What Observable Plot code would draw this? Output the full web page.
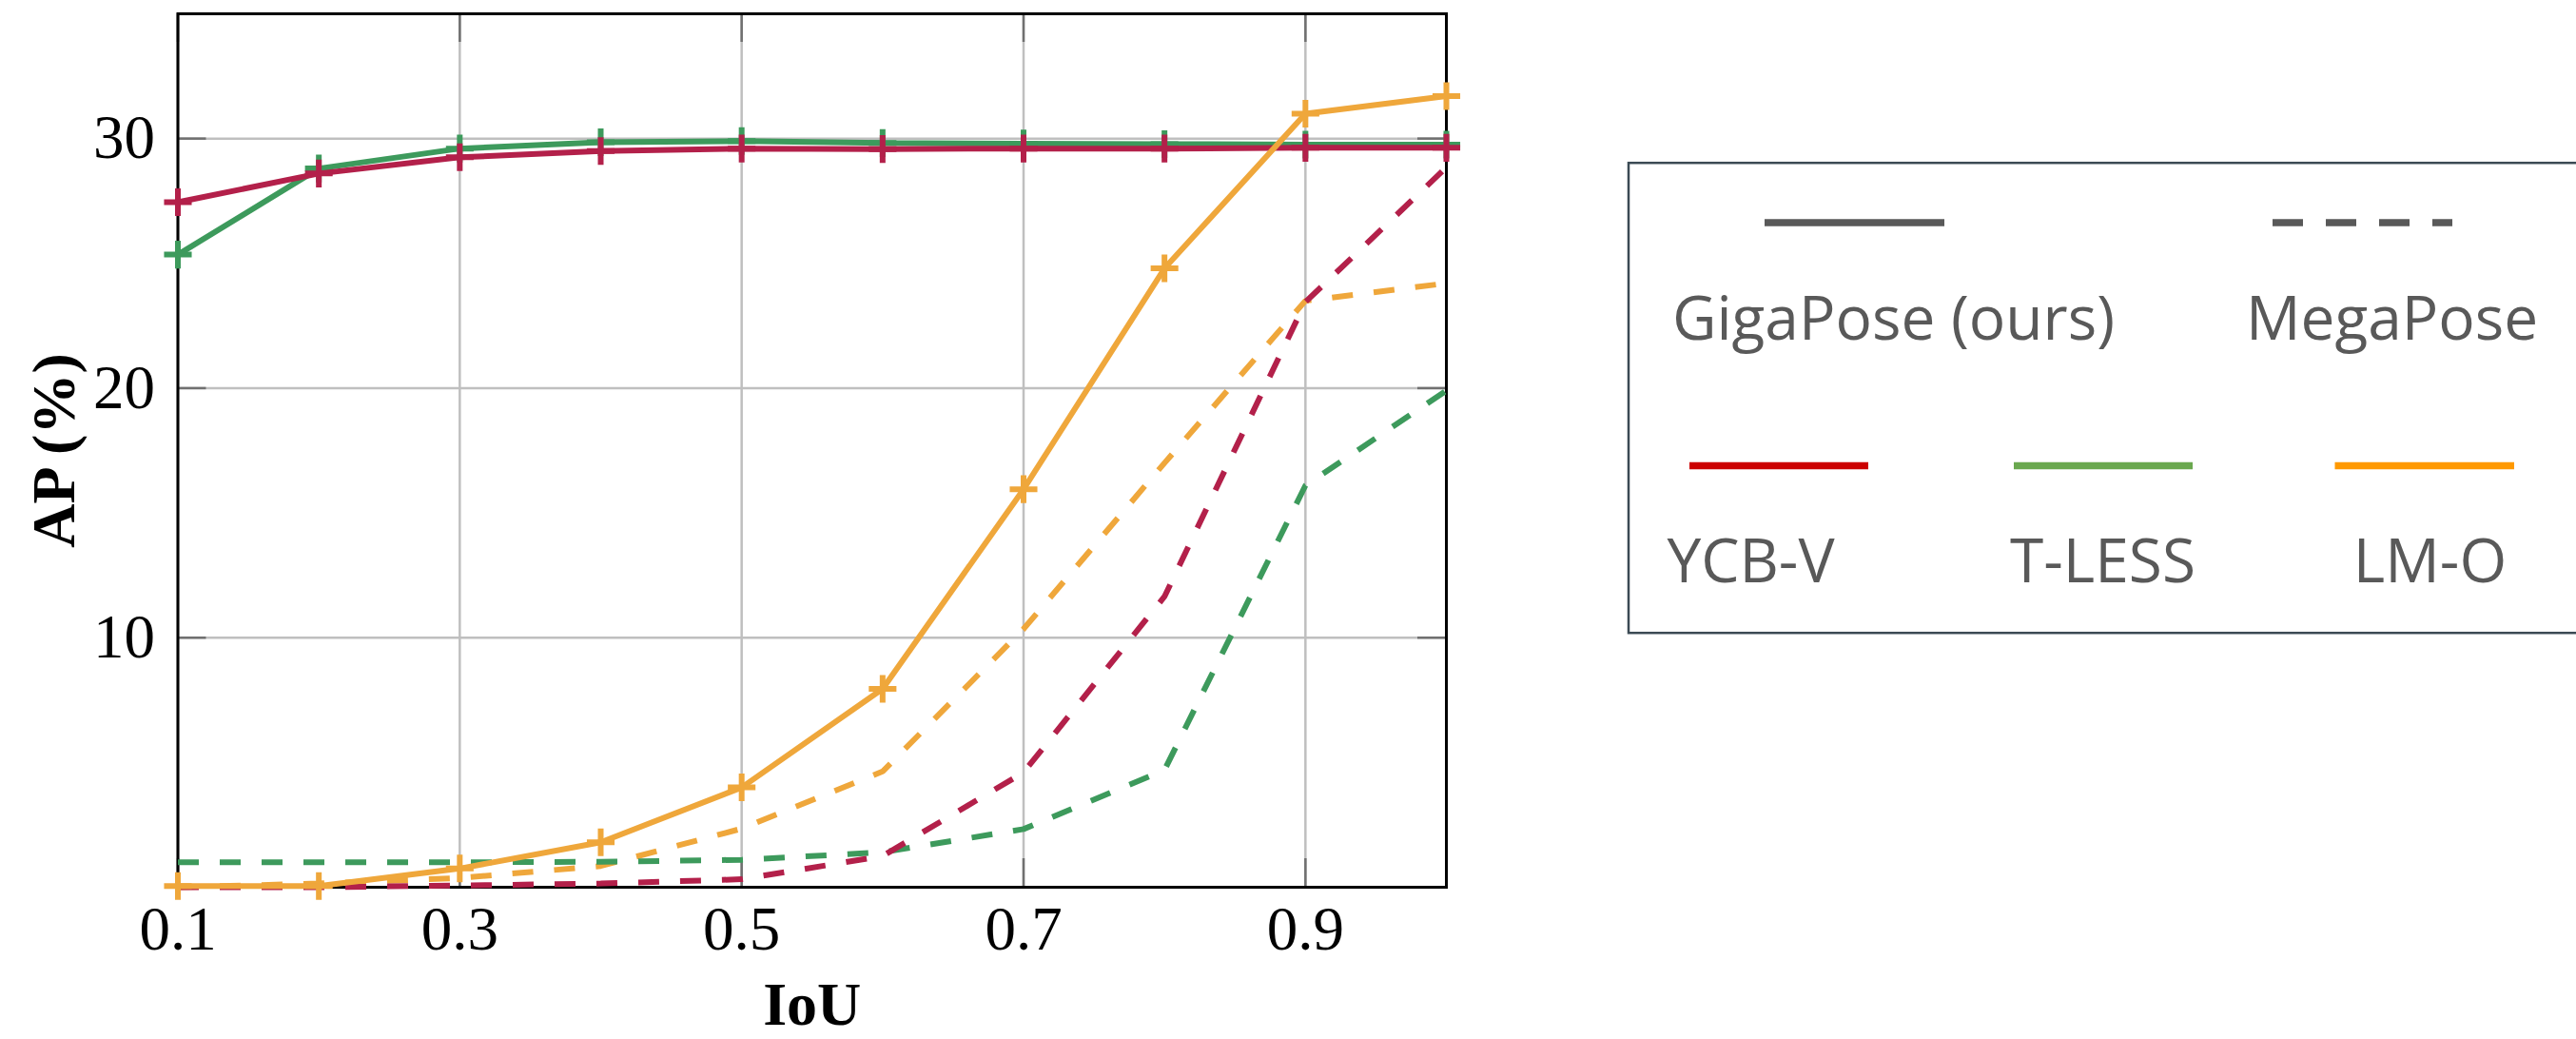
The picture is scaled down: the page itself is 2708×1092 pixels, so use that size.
<!DOCTYPE html>
<html>
<head>
<meta charset="utf-8">
<script src="https://cdn.jsdelivr.net/npm/d3@7"></script>
<script src="https://cdn.jsdelivr.net/npm/@observablehq/plot@0.6"></script>
<style>
  html, body { margin: 0; padding: 0; background: #fff; overflow: hidden; width: 2708px; height: 1092px; }
  #wrap { position: relative; width: 2708px; height: 1092px; }
  #chart { position: absolute; left: 0; top: 0; }
  #legend { position: absolute; left: 1711px; top: 170px; }
</style>
</head>
<body>
<div id="wrap">
  <div id="chart"></div>
  <div id="legend"></div>
</div>
<script>
// IoU thresholds on the x axis
const iou = [0.1, 0.2, 0.3, 0.4, 0.5, 0.6, 0.7, 0.8, 0.9, 1.0];

// AP (%) per dataset — GigaPose (ours), solid lines with "+" markers
const gigaYcbv  = [27.45, 28.6, 29.25, 29.5, 29.6, 29.58, 29.6, 29.6, 29.63, 29.63];
const gigaTless = [25.35, 28.8, 29.6, 29.85, 29.9, 29.82, 29.8, 29.78, 29.76, 29.76];
const gigaLmo   = [0.05, 0.05, 0.75, 1.8, 4.0, 7.95, 15.95, 24.8, 31.0, 31.7];

// AP (%) per dataset — MegaPose, dashed lines
const megaYcbv  = [0.0, 0.0, 0.07, 0.15, 0.32, 1.25, 4.6, 11.65, 23.45, 28.85];
const megaTless = [1.0, 1.0, 1.0, 1.02, 1.1, 1.4, 2.33, 4.7, 16.1, 19.9];
const megaLmo   = [0.0, 0.15, 0.37, 0.85, 2.35, 4.64, 10.35, 17.0, 23.5, 24.2];

const datasets = ["YCB-V", "T-LESS", "LM-O"];
const methods = ["GigaPose (ours)", "MegaPose"];
const lineColors = ["#b3204a", "#3d9a5c", "#efa73b"];     // plot strokes
const legendColors = ["#cc0000", "#6aa84f", "#ff9900"];   // legend swatches

const xTicks = [0.1, 0.3, 0.5, 0.7, 0.9];
const yTicks = [10, 20, 30];

const rows = (method, dataset, values) =>
  values.map((ap, i) => ({ iou: iou[i], ap, method, dataset }));

const giga = {
  "YCB-V": rows(methods[0], "YCB-V", gigaYcbv),
  "T-LESS": rows(methods[0], "T-LESS", gigaTless),
  "LM-O": rows(methods[0], "LM-O", gigaLmo)
};
const mega = {
  "YCB-V": rows(methods[1], "YCB-V", megaYcbv),
  "T-LESS": rows(methods[1], "T-LESS", megaTless),
  "LM-O": rows(methods[1], "LM-O", megaLmo)
};

// layout
const W = 1700, H = 1092;
const mL = 186.5, mR = W - 1520, mT = 14, mB = H - 932;
const frameW = W - mL - mR, frameH = H - mT - mB;
const tickLen = 30;

const lineStyle = { x: "iou", y: "ap", stroke: "dataset", strokeWidth: 6,
                    strokeLinejoin: "miter", strokeLinecap: "butt" };

// dashed MegaPose curves first, then GigaPose curves with markers on top
const dashedMarks = ["LM-O", "T-LESS", "YCB-V"].map(d =>
  Plot.line(mega[d], { ...lineStyle, strokeDasharray: "22 22" }));
const solidMarks = ["T-LESS", "YCB-V", "LM-O"].flatMap(d => [
  Plot.line(giga[d], lineStyle),
  Plot.dot(giga[d], { x: "iou", y: "ap", stroke: "dataset", symbol: "plus", r: 9.4, strokeWidth: 6 })
]);

const chart = Plot.plot({
  width: W,
  height: H,
  marginLeft: mL,
  marginRight: mR,
  marginTop: mT,
  marginBottom: mB,
  style: {
    fontFamily: "'Liberation Serif', 'DejaVu Serif', serif",
    fontSize: "65px",
    color: "#000",
    background: "transparent",
    overflow: "visible"
  },
  x: { domain: [0.1, 1.0] },
  y: { domain: [0, 35] },
  color: { domain: datasets, range: lineColors },
  marks: [
    Plot.gridX(xTicks, { stroke: "#bfbfbf", strokeOpacity: 1, strokeWidth: 2.5 }),
    Plot.gridY(yTicks, { stroke: "#bfbfbf", strokeOpacity: 1, strokeWidth: 2.5 }),
    // inward tick marks on all four sides
    Plot.ruleX(xTicks, { x: d => d, insetTop: frameH - tickLen, stroke: "#707070", strokeWidth: 2.5 }),
    Plot.ruleX(xTicks, { x: d => d, insetBottom: frameH - tickLen, stroke: "#707070", strokeWidth: 2.5 }),
    Plot.ruleY(yTicks, { y: d => d, insetRight: frameW - tickLen, stroke: "#707070", strokeWidth: 2.5 }),
    Plot.ruleY(yTicks, { y: d => d, insetLeft: frameW - tickLen, stroke: "#707070", strokeWidth: 2.5 }),
    Plot.frame({ stroke: "#000", strokeWidth: 3 }),
    Plot.axisX(xTicks, { tickSize: 0, tickPadding: 19, tickFormat: d3.format(".1f"), label: null }),
    Plot.axisY(yTicks, { tickSize: 0, tickPadding: 24, label: null }),
    Plot.text(["IoU"], { text: d => d, frameAnchor: "bottom", dy: 144, lineAnchor: "bottom",
                         textAnchor: "middle", fontWeight: "bold", fontSize: 64 }),
    Plot.text(["AP (%)"], { text: d => d, frameAnchor: "left", dx: -129, rotate: -90,
                            textAnchor: "middle", lineAnchor: "middle", fontWeight: "bold", fontSize: 64 }),
    ...dashedMarks,
    ...solidMarks
  ]
});
document.getElementById("chart").append(chart);

// legend: line style per method, colour per dataset
const legend = d3.create("svg")
  .attr("width", 1000)
  .attr("height", 500)
  .style("overflow", "visible")
  .style("font-family", "'Open Sans', 'Noto Sans', sans-serif");

legend.append("rect")
  .attr("x", 1).attr("y", 1.2)
  .attr("width", 1200).attr("height", 494)
  .attr("fill", "none").attr("stroke", "#3b4a54").attr("stroke-width", 2.5);

const methodItems = [
  { label: methods[0], x1: 144, x2: 333, cx: 279.5, dash: null },
  { label: methods[1], x1: 678, x2: 867, cx: 803.5, dash: "32 24" }
];
methodItems.forEach(m => {
  legend.append("line")
    .attr("x1", m.x1).attr("x2", m.x2).attr("y1", 64).attr("y2", 64)
    .attr("stroke", "#595959").attr("stroke-width", 7.7)
    .attr("stroke-dasharray", m.dash);
  legend.append("text")
    .attr("x", m.cx).attr("y", 187)
    .attr("text-anchor", "middle")
    .attr("font-size", 64).attr("fill", "#595959")
    .text(m.label);
});

const datasetItems = [
  { x1: 65, x2: 253, cx: 129.5 },
  { x1: 406, x2: 594, cx: 499.5 },
  { x1: 743.5, x2: 932, cx: 843.5 }
];
datasetItems.forEach((d, i) => {
  legend.append("line")
    .attr("x1", d.x1).attr("x2", d.x2).attr("y1", 319.5).attr("y2", 319.5)
    .attr("stroke", legendColors[i]).attr("stroke-width", 7.7);
  legend.append("text")
    .attr("x", d.cx).attr("y", 442)
    .attr("text-anchor", "middle")
    .attr("font-size", 64).attr("fill", "#595959")
    .text(datasets[i]);
});

document.getElementById("legend").append(legend.node());
</script>
</body>
</html>
